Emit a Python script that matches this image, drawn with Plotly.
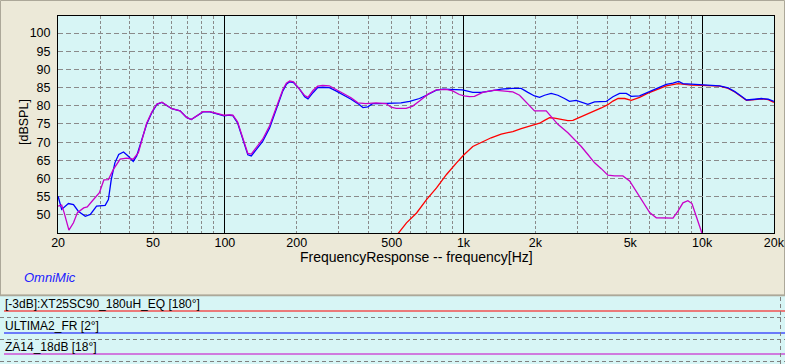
import math
import plotly.graph_objects as go

# ---------------- data ----------------
blue_f = [20, 20.7, 22.1, 23.2, 24.3, 26.0, 27.3, 29.0, 31.5, 32.5, 33.4, 34.6, 35.9, 37.6, 39.3,
          41.3, 42.7, 44.8, 47.0, 49.4, 51.9, 54.5, 57.1, 59.9, 64.9, 69.1, 72.3, 76.0, 81.0, 86.6,
          93.9, 99.0, 104.6, 108, 113, 119, 124.8, 129, 135, 144, 154, 164, 175, 181, 187, 194,
          206, 216, 223, 234, 245, 257, 274, 292, 312, 338, 361, 379, 397, 416, 445, 506, 547,
          595, 654, 710, 770, 821, 901, 990, 1094, 1186, 1306, 1439, 1610, 1745, 1862, 1985,
          2084, 2187, 2331, 2487, 2651, 2782, 2967, 3116, 3322, 3543, 3966, 4230, 4512, 4811,
          5050, 5472, 5932, 6530, 7080, 7550, 7970, 8315, 9010, 10000, 10940, 11850, 12860,
          13720, 14620, 15350, 16630, 17750, 18930, 20000]
blue_db = [55.1, 51.5, 53.1, 52.8, 51.0, 49.6, 50.1, 52.4, 52.6, 54.2, 59.7, 64.3, 66.6, 67.3, 66.2,
           64.7, 66.2, 70.8, 74.9, 78.1, 80.4, 80.9, 80.0, 79.2, 78.6, 76.8, 76.2, 77.2, 78.3, 78.3,
           77.7, 77.2, 77.4, 77.3, 75.3, 70.6, 66.5, 66.2, 67.9, 70.2, 73.9, 79.0, 84.1, 85.9, 86.6, 86.4,
           84.5, 82.5, 81.9, 83.6, 85.0, 85.1, 85.0, 84.1, 83.1, 81.8, 80.6, 79.5, 79.7, 80.6, 80.6, 80.6, 80.8,
           81.2, 82.0, 83.1, 84.3, 84.6, 84.6, 84.4, 83.7, 83.7, 84.1, 84.6, 84.8, 84.8, 83.7, 82.7,
           82.3, 82.9, 83.4, 82.9, 82.0, 81.2, 81.5, 81.1, 80.4, 81.1, 81.2, 82.5, 83.4, 83.4,
           82.6, 82.7, 83.7, 84.8, 85.9, 86.2, 86.7, 86.1, 86.0, 85.8, 85.8, 85.5, 84.9,
           83.9, 82.6, 81.6, 81.8, 82.0, 81.8, 81.2]

mag_f = [20, 20.7, 21.2, 22.2, 23.2, 24.1, 25.6, 26.5, 27.8, 29.8, 31.1, 32.5, 34.1, 36.4, 38.7,
         41.3, 43.4, 45.5, 47.0, 49.4, 51.9, 54.5, 57.1, 59.9, 64.9, 69.1, 72.3, 76.0, 81.0, 86.6,
         93.9, 99.0, 104.6, 108, 113, 119, 124.8, 129, 135, 144, 154, 164, 175, 181, 187, 194,
         206, 216, 223, 234, 245, 257, 274, 292, 312, 338, 361, 390, 430, 474, 497, 523, 575,
         613, 654, 710, 770, 846, 901, 960, 1008, 1059, 1112, 1205, 1349, 1486, 1610, 1718,
         1832, 1985, 2118, 2222, 2331, 2487, 2739, 2921, 3116, 3322, 3545, 3780, 4030, 4300,
         4655, 4970, 5300, 5655, 6030, 6430, 6960, 7550, 7925, 8315, 8720, 9070, 9450, 9920, 10100]
mag_db = [52.4, 52.7, 50.6, 45.8, 47.8, 50.6, 51.9, 52.2, 53.8, 56.1, 59.6, 59.7, 62.5, 65.3, 65.6,
          65.3, 67.1, 72.0, 75.2, 78.3, 80.5, 81.0, 80.0, 79.2, 78.6, 76.8, 76.2, 77.2, 78.4, 78.4,
          77.7, 77.4, 77.5, 77.4, 75.6, 71.0, 66.9, 66.7, 68.4, 70.8, 74.5, 79.5, 84.5, 86.2, 86.8, 86.6,
          84.6, 82.8, 82.3, 84.2, 85.4, 85.6, 85.5, 84.5, 83.6, 82.2, 80.8, 80.6, 80.8, 80.6, 79.6, 79.3, 79.3,
          79.9, 81.3, 83.2, 84.4, 84.5, 84.1, 83.1, 82.7, 82.5, 82.6, 83.7, 84.3, 84.1, 83.8, 82.9,
          80.9, 78.6, 78.6, 78.6, 77.0, 74.9, 72.6, 70.8, 68.8, 66.6, 64.3, 62.7, 60.9, 60.7,
          60.7, 59.3, 56.5, 53.3, 50.6, 49.2, 49.1, 49.1, 51.0, 53.3, 53.9, 53.1, 49.6, 45.5, 44.0]

red_f = [520, 541, 577, 636, 700, 771, 849, 935, 1000, 1094, 1186, 1306, 1439, 1610, 1745, 1924,
         2084, 2187, 2294, 2408, 2527, 2739, 2874, 3066, 3271, 3545, 3780, 4030, 4230, 4447, 4742,
         5050, 5472, 5932, 6530, 7080, 7925, 9010, 10000, 10940, 11850, 12860, 13720, 14620,
         15350, 16630, 17750, 18930, 20000]
red_db = [44.0, 45.5, 47.8, 50.5, 54.2, 57.4, 61.1, 64.3, 66.4, 68.8, 70.0, 71.2, 72.2, 72.9, 73.7, 74.5,
          75.2, 76.0, 76.7, 76.6, 76.3, 75.9, 76.0, 76.8, 77.6, 78.4, 79.4, 80.3, 81.3, 82.0, 82.0,
          81.5, 82.3, 83.5, 84.6, 85.5, 86.1, 85.7, 85.6, 85.6, 85.4, 84.8, 83.8, 82.5,
          81.5, 81.7, 81.9, 81.7, 80.9]

x_tick_vals = [20, 50, 100, 200, 500, 1000, 2000, 5000, 10000, 20000]
x_tick_text = ["20", "50", "100", "200", "500", "1k", "2k", "5k", "10k", "20k"]
decade_vals = [100, 1000, 10000]
minor_vals = [30, 40, 50, 60, 70, 80, 90, 200, 300, 400, 500, 600, 700, 800, 900,
              2000, 3000, 4000, 5000, 6000, 7000, 8000, 9000]
y_tick_vals = [50, 55, 60, 65, 70, 75, 80, 85, 90, 95, 100]

legend_names = ["[-3dB]:XT25SC90_180uH_EQ [180°]", "ULTIMA2_FR [2°]", "ZA14_18dB [18°]"]

RED = "#FF0000"
BLUE = "#0000FF"
MAG = "#C800C8"

# ---------------- geometry ----------------
W, H = 785, 364
L, R, T, B = 58, 774, 16, 233
PW, PH = R - L, B - T


def px(xp):
    return (xp - L) / PW


def py(yp):
    return (B - yp) / PH


FONT2 = "Liberation Sans, Arial, sans-serif"

fig = go.Figure()
fig.add_trace(go.Scatter(x=red_f, y=red_db, mode="lines", line=dict(color=RED, width=1.3),
                         hoverinfo="skip", xaxis="x", yaxis="y"))
fig.add_trace(go.Scatter(x=blue_f, y=blue_db, mode="lines", line=dict(color=BLUE, width=1.3),
                         hoverinfo="skip", xaxis="x", yaxis="y"))
fig.add_trace(go.Scatter(x=mag_f, y=mag_db, mode="lines", line=dict(color=MAG, width=1.3),
                         hoverinfo="skip", xaxis="x2", yaxis="y"))

xr = [math.log10(20) - 0.0004, math.log10(20000) + 0.0004]
fig.update_layout(
    width=W, height=H,
    margin=dict(l=L, r=W - R, t=T, b=H - B, autoexpand=False),
    paper_bgcolor="#ECE9D8",
    plot_bgcolor="#D7F5F5",
    showlegend=False,
    xaxis=dict(type="log", range=xr, tickvals=decade_vals, showticklabels=False,
               showgrid=True, gridcolor="black", gridwidth=1, ticks="", automargin=False,
               minor=dict(tickvals=minor_vals, showgrid=True, gridcolor="#8A8A8A",
                          griddash="3px,2px", gridwidth=1, ticks=""),
               showline=True, linecolor="black", linewidth=1, mirror=True, zeroline=False),
    xaxis2=dict(type="log", range=xr, overlaying="x", anchor="y", side="bottom",
                tickvals=x_tick_vals, ticktext=x_tick_text, showgrid=False, ticks="",
                tickfont=dict(family=FONT2, size=12.5, color="black"), zeroline=False,
                showline=False, automargin=False),
    yaxis=dict(range=[45, 104.7], tickvals=y_tick_vals, showgrid=True, gridcolor="#8A8A8A",
               griddash="5px,3px", gridwidth=1, ticks="", ticklabelstandoff=4, automargin=False,
               tickfont=dict(family=FONT2, size=12.5, color="black"),
               showline=True, linecolor="black", linewidth=1, mirror=True, zeroline=False),
)

shapes = []
# outer border of upper panel
shapes.append(dict(type="rect", xref="paper", yref="paper", x0=px(0.5), x1=px(784.5),
                   y0=py(0.5), y1=py(295), line=dict(color="#ACA899", width=1), layer="below"))
# legend panel background
shapes.append(dict(type="rect", xref="paper", yref="paper", x0=px(0), x1=px(W),
                   y0=py(296), y1=py(H), fillcolor="#D7F5F5", line=dict(width=0), layer="below"))
shapes.append(dict(type="line", xref="paper", yref="paper", x0=px(0), x1=px(W),
                   y0=py(295.5), y1=py(295.5), line=dict(color="#ACA899", width=1.5)))
row_text_y = [304, 326, 347]
row_line_y = [311, 333, 354]
row_sep_y = [317.5, 339.5, 361.5]
colors = [RED, BLUE, MAG]
for ly, sy, c in zip(row_line_y, row_sep_y, colors):
    shapes.append(dict(type="line", xref="paper", yref="paper", x0=px(4), x1=px(W),
                       y0=py(ly), y1=py(ly), line=dict(color=c, width=1.2)))
    shapes.append(dict(type="line", xref="paper", yref="paper", x0=px(0), x1=px(W),
                       y0=py(sy), y1=py(sy), line=dict(color="#808080", width=1, dash="4px,3px")))
shapes.append(dict(type="line", xref="paper", yref="paper", x0=px(780.5), x1=px(780.5),
                   y0=py(297), y1=py(H), line=dict(color="#808080", width=1, dash="4px,3px")))
fig.update_layout(shapes=shapes)

ann = []
ann.append(dict(text="FrequencyResponse -- frequency[Hz]", xref="paper", yref="paper",
                x=0.5, y=py(257), xanchor="center", yanchor="middle", showarrow=False,
                font=dict(family=FONT2, size=14, color="black")))
ann.append(dict(text="[dBSPL]", xref="paper", yref="paper", x=px(24), y=py(122),
                xanchor="center", yanchor="middle", textangle=-90, showarrow=False,
                font=dict(family=FONT2, size=12.5, color="black")))
ann.append(dict(text="<i>OmniMic</i>", xref="paper", yref="paper", x=px(22), y=py(277),
                xanchor="left", yanchor="middle", showarrow=False,
                font=dict(family=FONT2, size=13, color="#2020FF")))
for name, ty in zip(legend_names, row_text_y):
    ann.append(dict(text=name, xref="paper", yref="paper", x=px(3), y=py(ty),
                    xanchor="left", yanchor="middle", showarrow=False,
                    font=dict(family=FONT2, size=12, color="black")))
fig.update_layout(annotations=ann)

fig.write_html("out.html", config={"displayModeBar": False},
               post_script="document.body.style.margin='0';document.body.style.overflow='hidden';")
